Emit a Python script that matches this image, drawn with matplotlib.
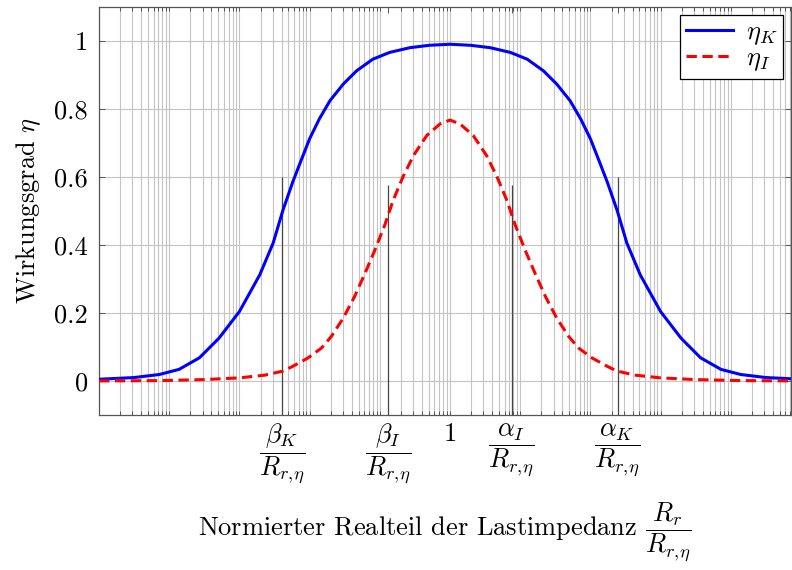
import numpy as np
import matplotlib
matplotlib.use("Agg")
import matplotlib.pyplot as plt
from matplotlib.ticker import LogLocator, FixedLocator, NullFormatter

plt.rcParams["font.family"] = "cmr10"
plt.rcParams["mathtext.fontset"] = "cm"
plt.rcParams["axes.unicode_minus"] = False
plt.rcParams["font.size"] = 19

# data (log10 of normalized load resistance)
logx_K = [-5.0, -4.5, -4.14, -3.86, -3.57, -3.29, -3.0, -2.71, -2.52, -2.38, -2.24, -2.12,
          -2.0, -1.86, -1.71, -1.52, -1.33, -1.1, -0.86, -0.57, -0.29, 0.0,
          0.29, 0.57, 0.86, 1.1, 1.33, 1.52, 1.71, 1.86, 2.0,
          2.12, 2.24, 2.38, 2.52, 2.71, 3.0, 3.29, 3.57, 3.86, 4.14, 4.5, 5.0]
eta_K = [0.005, 0.010, 0.019, 0.034, 0.068, 0.126, 0.204, 0.312, 0.405, 0.502, 0.585, 0.649,
         0.712, 0.771, 0.824, 0.873, 0.912, 0.946, 0.966, 0.980, 0.987, 0.990,
         0.987, 0.980, 0.966, 0.946, 0.912, 0.873, 0.824, 0.771, 0.712,
         0.649, 0.585, 0.502, 0.405, 0.312, 0.204, 0.126, 0.068, 0.034, 0.019, 0.010, 0.005]

logx_I = [-5.0, -4.14, -3.5, -3.0, -2.64, -2.38, -2.24, -2.02, -1.83, -1.69, -1.52, -1.36,
          -1.21, -1.07, -0.93, -0.81, -0.67, -0.52, -0.33, -0.14, 0.0,
          0.14, 0.33, 0.52, 0.67, 0.81, 0.93, 1.07, 1.21,
          1.36, 1.52, 1.69, 1.83, 2.02, 2.24, 2.38, 2.64, 3.0, 3.5, 4.14, 5.0]
eta_I = [0.0, 0.001, 0.004, 0.009, 0.017, 0.029, 0.043, 0.068, 0.097, 0.131, 0.185, 0.248,
         0.317, 0.385, 0.458, 0.531, 0.600, 0.663, 0.722, 0.756, 0.767,
         0.756, 0.722, 0.663, 0.600, 0.531, 0.458, 0.385, 0.317,
         0.248, 0.185, 0.131, 0.097, 0.068, 0.043, 0.029, 0.017, 0.009, 0.004, 0.001, 0.0]

# marker lines: beta_K, beta_I, alpha_I, alpha_K
mark_logx = [-2.39, -0.88, 0.88, 2.39]
mark_top = [0.6, 0.575, 0.575, 0.6]

xtick_logx = [-2.39, -0.88, 0.0, 0.88, 2.39]
xtick_labels = [r"$\dfrac{\beta_K}{R_{r,\!\eta}}$", r"$\dfrac{\beta_I}{R_{r,\!\eta}}$", "1",
                r"$\dfrac{\alpha_I}{R_{r,\!\eta}}$", r"$\dfrac{\alpha_K}{R_{r,\!\eta}}$"]
yticks = [0, 0.2, 0.4, 0.6, 0.8, 1.0]
ytick_labels = ["0", "0.2", "0.4", "0.6", "0.8", "1"]

fig = plt.figure(figsize=(7.92, 5.70), dpi=100)
ax = fig.add_axes([0.125, 0.272, 0.8737, 0.716])

ax.plot(10.0 ** np.array(logx_K), eta_K, color="#0000ff", lw=2.2, label=r"$\eta_K$", zorder=3)
ax.plot(10.0 ** np.array(logx_I), eta_I, color="#ff0000", lw=2.2, dashes=(3.4, 1.8),
        label=r"$\eta_I$", zorder=3)
ax.vlines(10.0 ** np.array(mark_logx), -0.1, mark_top, color="#444444", lw=0.9, zorder=2)

ax.set_xscale("log")
ax.set_xlim(1e-5, 10 ** 4.857)
ax.set_ylim(-0.1, 1.1)

ax.xaxis.remove_overlapping_locs = False
ax.xaxis.set_major_locator(FixedLocator(10.0 ** np.array(xtick_logx)))
ax.set_xticklabels(xtick_labels)
ax.xaxis.set_minor_locator(LogLocator(base=10, subs=np.arange(1, 10), numticks=100))
ax.xaxis.set_minor_formatter(NullFormatter())
ax.set_yticks(yticks)
ax.set_yticklabels(ytick_labels)

ax.grid(False)
ax.grid(True, which="minor", axis="x", color="#c4c4c4", lw=0.8, zorder=0)
ax.grid(True, which="major", axis="y", color="#c4c4c4", lw=0.8, zorder=0)
ax.set_axisbelow(True)

ax.tick_params(which="both", direction="in", top=True, right=True, color="#555555", width=0.7)
ax.tick_params(which="major", length=4, pad=8)
ax.tick_params(axis="x", which="major", pad=5)
ax.tick_params(which="minor", length=3)
for s in ax.spines.values():
    s.set_color("#555555")
    s.set_linewidth(0.9)

ax.set_ylabel(r"Wirkungsgrad $\eta$", labelpad=8)
ax.set_xlabel(r"Normierter Realteil der Lastimpedanz $\dfrac{R_r}{R_{r,\!\eta}}$", labelpad=10)

leg = ax.legend(loc="upper right", fancybox=False, framealpha=1, edgecolor="black",
                handlelength=1.8, borderaxespad=0.3, borderpad=0.2, labelspacing=0.0,
                handletextpad=0.5)
leg.get_frame().set_linewidth(0.9)

fig.savefig("out.png", dpi=100)
